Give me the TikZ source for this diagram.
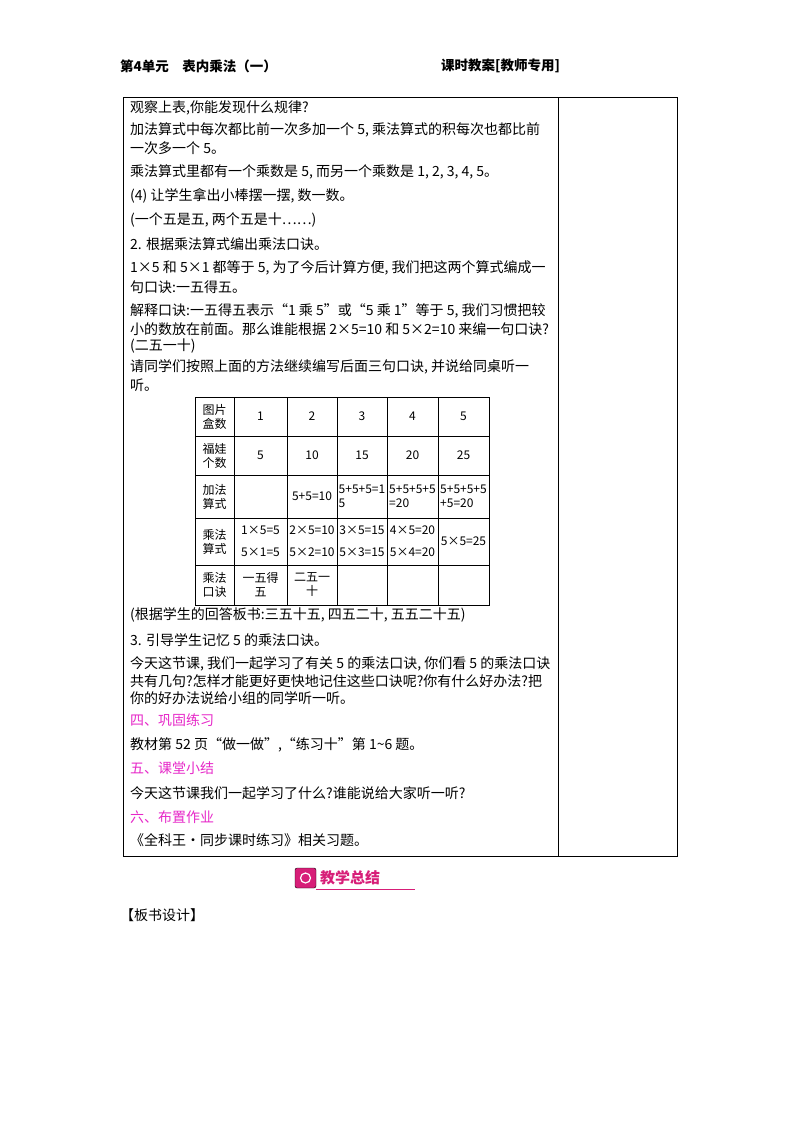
\documentclass[tikz,border=0pt]{standalone}
\usepackage{fontspec}
\setmainfont{Noto Sans CJK SC}
\usepackage{tikz}
\usetikzlibrary{calc}
\definecolor{rosered}{RGB}{230,40,200}
\definecolor{logored}{RGB}{215,30,120}
\tikzset{
  txt/.style={anchor=west, inner sep=0pt, font=\fontsize{14}{15}\selectfont},
  head/.style={txt, font=\fontsize{13.5}{15}\selectfont\bfseries},
  sect/.style={txt, text=rosered},
  cell/.style={inner sep=0pt, font=\fontsize{12}{14}\selectfont, align=center},
}
\begin{document}
\begin{tikzpicture}[x=1pt,y=-1pt]
\useasboundingbox (0,0) rectangle (800,1132);

% header
\node[head] (hl) at (120,66) {第4单元\quad 表内乘法（一）};
\node[head] (hr) at (441,66) {课时教案[教师专用]};

% frame
\draw [line width=1] (123,97) rectangle (677,856);
\draw [line width=0.8] (558,97) -- (558,856);

% text before table
\node[txt] (t1) at (130,108) {观察上表,你能发现什么规律?};
\node[txt] (t2) at (130,130) {加法算式中每次都比前一次多加一个 5, 乘法算式的积每次也都比前};
\node[txt] (t3) at (130,148) {一次多一个 5。};
\node[txt] (t4) at (130,172) {乘法算式里都有一个乘数是 5, 而另一个乘数是 1, 2, 3, 4, 5。};
\node[txt] (t5) at (130,196) {(4) 让学生拿出小棒摆一摆, 数一数。};
\node[txt] (t6) at (130,220) {(一个五是五, 两个五是十……)};
\node[txt] (t7) at (130,244) {2. 根据乘法算式编出乘法口诀。};
\node[txt] (t8) at (130,268) {1×5 和 5×1 都等于 5, 为了今后计算方便, 我们把这两个算式编成一};
\node[txt] (t9) at (130,287) {句口诀:一五得五。};
\node[txt] (t10) at (130,311) {解释口诀:一五得五表示“1 乘 5”或“5 乘 1”等于 5, 我们习惯把较};
\node[txt] (t11) at (130,329) {小的数放在前面。那么谁能根据 2×5=10 和 5×2=10 来编一句口诀?};
\node[txt] (t12) at (130,346) {(二五一十)};
\node[txt] (t13) at (130,367) {请同学们按照上面的方法继续编写后面三句口诀, 并说给同桌听一};
\node[txt] (t14) at (130,385) {听。};

% table
\draw [line width=1] (195,397) rectangle (489,605);
\foreach \x in {234,287,337,387,438} \draw (\x,397) -- (\x,605);
\foreach \y in {436,475,518,565} \draw (195,\y) -- (489,\y);
\foreach \y/\a in {416.5/{图片\\盒数}, 455.5/{福娃\\个数}, 496.5/{加法\\算式}, 541.5/{乘法\\算式}, 585/{乘法\\口诀}}
  \node[cell] at (214.5,\y) {\a};
\foreach \x/\a in {260.5/1, 312/2, 362/3, 412.5/4, 463.5/5}
  \node[cell] at (\x,416.5) {\a};
\foreach \x/\a in {260.5/5, 312/10, 362/15, 412.5/20, 463.5/25}
  \node[cell] at (\x,455.5) {\a};
\node[cell] (a2) at (312,496.5) {5+5=10};
\node[cell, align=left] (a3) at (362,496.5) {5+5+5=1\\5};
\node[cell, align=left] (a4) at (412.5,496.5) {5+5+5+5\\=20};
\node[cell, align=left] (a5) at (463.5,496.5) {5+5+5+5\\+5=20};
\foreach \x/\a/\b in {260.5/1×5=5/5×1=5, 312/2×5=10/5×2=10, 362/3×5=15/5×3=15, 412.5/4×5=20/5×4=20}
{
  \node[cell] at (\x,530) {\a};
  \node[cell] at (\x,552) {\b};
}
\node[cell] (m5) at (463.5,541.5) {5×5=25};
\node[cell] (k1) at (260.5,585) {一五得\\五};
\node[cell] (k2) at (312,585) {二五一\\十};

% text after table
\node[txt] (u1) at (130,615) {(根据学生的回答板书:三五十五, 四五二十, 五五二十五)};
\node[txt] (u2) at (130,640) {3. 引导学生记忆 5 的乘法口诀。};
\node[txt] (u3) at (130,664) {今天这节课, 我们一起学习了有关 5 的乘法口诀, 你们看 5 的乘法口诀};
\node[txt] (u4) at (130,681) {共有几句?怎样才能更好更快地记住这些口诀呢?你有什么好办法?把};
\node[txt] (u5) at (130,698) {你的好办法说给小组的同学听一听。};
\node[sect] (s4) at (130,720) {四、巩固练习};
\node[txt] (u6) at (130,745) {教材第 52 页“做一做”,“练习十”第 1\textasciitilde 6 题。};
\node[sect] (s5) at (130,768) {五、课堂小结};
\node[txt] (u7) at (130,793) {今天这节课我们一起学习了什么?谁能说给大家听一听?};
\node[sect] (s6) at (130,817) {六、布置作业};
\node[txt] (u8) at (130,840) {《全科王·同步课时练习》相关习题。};

% logo
\draw [fill=logored, rounded corners=2] (295,868) rectangle (316,888);
\draw [white, line width=1.2] (305.5,878) circle (5);
\node[anchor=west, inner sep=0pt, text=logored, font=\fontsize{15}{17}\selectfont\bfseries] (logo) at (320,878) {教学总结};
\draw [logored, line width=0.6] (316,889) -- (415,889);

\node[txt] (bs) at (120,915) {【板书设计】};
\end{tikzpicture}
\end{document}
